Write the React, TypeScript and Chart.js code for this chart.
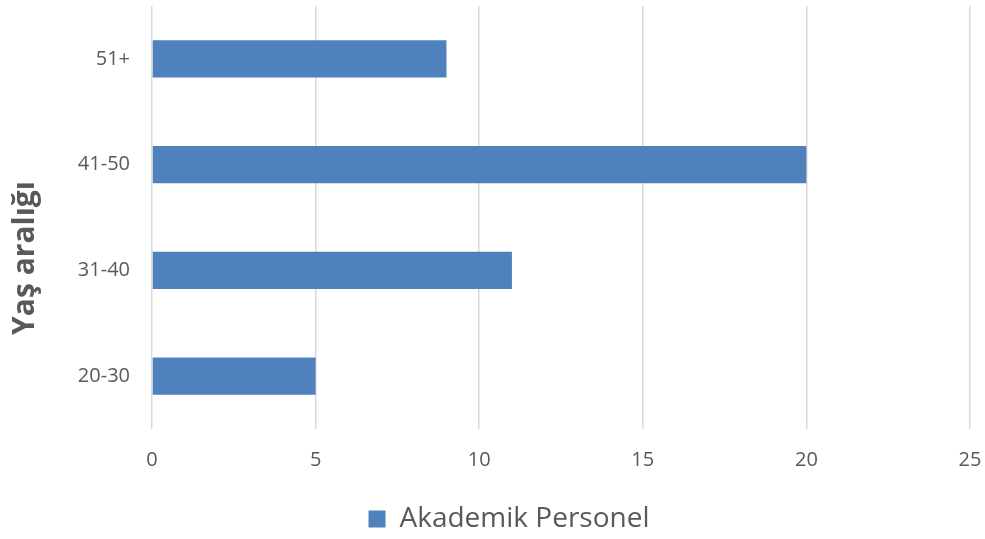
import React, { useEffect, useRef } from "react";
import { Chart, registerables } from "chart.js";

Chart.register(...registerables);

const categories = ["51+", "41-50", "31-40", "20-30"];
const values = [9, 20, 11, 5];
const seriesName = "Akademik Personel";
const axisTitle = "Yaş aralığı";
const xMin = 0;
const xMax = 25;
const xStep = 5;

const FONT = "'Open Sans', 'Noto Sans', sans-serif";
const TEXT = "#595959";

const yTitlePlugin = {
  id: "yTitle",
  afterDraw(chart: any) {
    const ctx = chart.ctx;
    ctx.save();
    ctx.font = `bold 30px ${FONT}`;
    ctx.fillStyle = TEXT;
    ctx.textAlign = "center";
    ctx.textBaseline = "middle";
    ctx.translate(25, 258);
    ctx.rotate(-Math.PI / 2);
    ctx.fillText(axisTitle, 0, 0);
    ctx.restore();
  },
};

export default function App() {
  const ref = useRef<HTMLCanvasElement | null>(null);
  useEffect(() => {
    if (!ref.current) return;
    const chart = new Chart(ref.current, {
      type: "bar",
      data: {
        labels: categories,
        datasets: [
          {
            label: seriesName,
            data: values,
            backgroundColor: "#4F81BD",
            borderWidth: 0,
            barPercentage: 0.35,
            categoryPercentage: 1,
          },
        ],
      },
      plugins: [yTitlePlugin],
      options: {
        indexAxis: "y",
        responsive: false,
        animation: false,
        maintainAspectRatio: false,
        layout: { padding: { top: 6, right: 15, left: 48, bottom: -4 } },
        plugins: {
          legend: {
            position: "bottom",
            labels: {
              font: { family: FONT, size: 28 },
              color: TEXT,
              boxWidth: 17,
              boxHeight: 17,
              padding: 5,
            },
          },
          tooltip: { enabled: false },
        },
        scales: {
          x: {
            min: xMin,
            max: xMax,
            ticks: {
              stepSize: xStep,
              font: { family: FONT, size: 20 },
              color: TEXT,
              padding: 19,
            },
            grid: { color: "#d9d9d9", lineWidth: 1.5, drawTicks: false },
            border: { display: false },
            afterFit: (s: any) => {
              s.height = 71;
              s.paddingLeft = 0;
              s.paddingRight = 0;
            },
          },
          y: {
            ticks: {
              font: { family: FONT, size: 20 },
              color: TEXT,
              padding: 22,
            },
            grid: { display: false, drawTicks: false },
            border: { display: false },
            afterFit: (s: any) => {
              s.width = 104;
              s.paddingTop = 0;
              s.paddingBottom = 0;
            },
          },
        },
      },
    });
    return () => chart.destroy();
  }, []);
  return (
    <div style={{ position: "fixed", left: 0, top: 0, width: 985, height: 539, background: "#fff" }}>
      <canvas ref={ref} width={985} height={539} style={{ width: 985, height: 539 }} />
    </div>
  );
}
